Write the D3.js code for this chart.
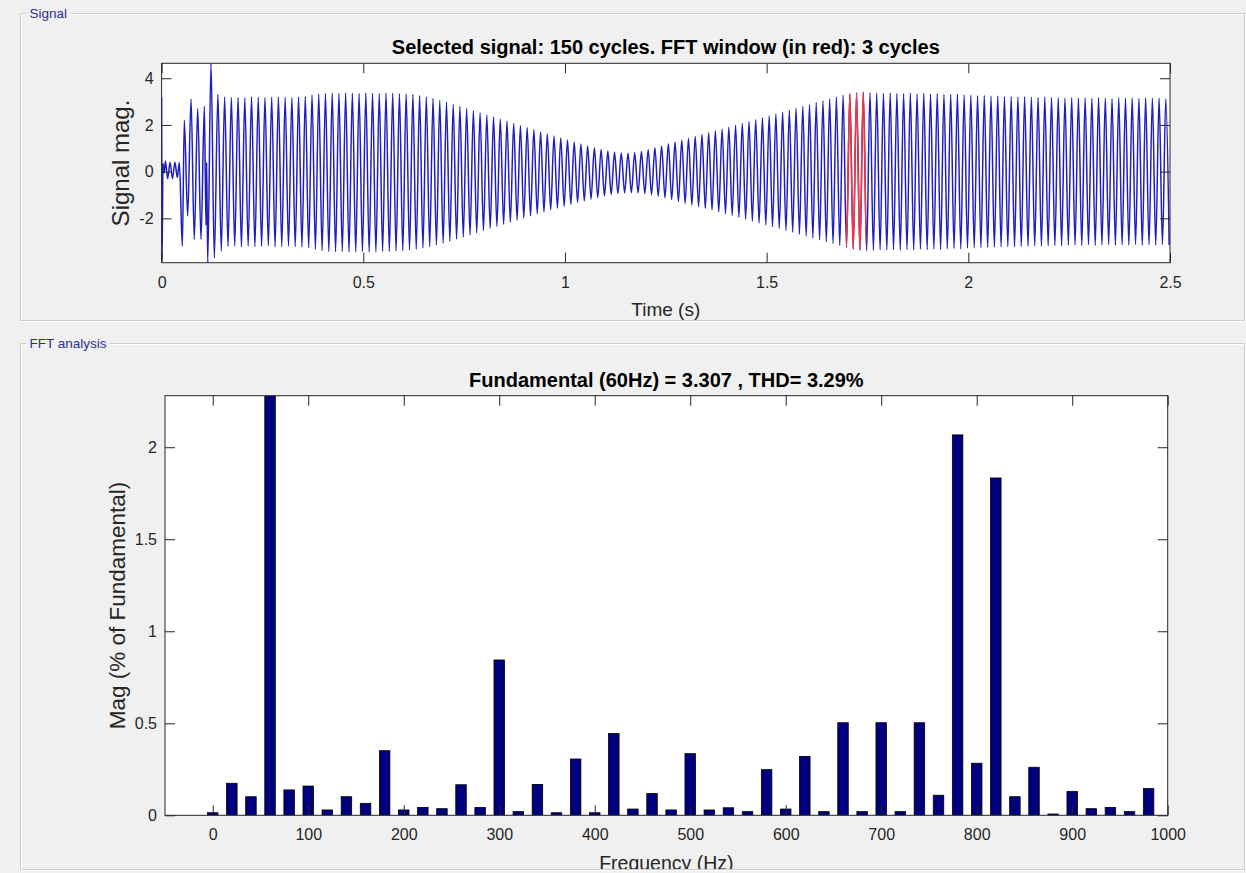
<!DOCTYPE html>
<html><head><meta charset="utf-8">
<script src="https://cdn.jsdelivr.net/npm/d3@7"></script>
<style>
html,body{margin:0;padding:0;background:#f0f0f0;}
svg{display:block;font-family:"Liberation Sans",Arial,Helvetica,sans-serif;}
</style></head><body>
<svg id="chart" width="1246" height="873"></svg>
<script>
// ---------------- DATA ----------------
const fundamentalHz = 60;
const signalTitle = "Selected signal: 150 cycles. FFT window (in red): 3 cycles";
const fftTitle = "Fundamental (60Hz) = 3.307 , THD= 3.29%";
// irregular start of the signal: [time (s), value]
const signalTransient = [
  [0, 3.2], [0.0012, -3.75], [0.0035, 0.35], [0.0065, -0.05], [0.0095, 0.45],
  [0.015, -0.3], [0.021, 0.4], [0.027, -0.3], [0.033, 0.4], [0.039, -0.25],
  [0.044, 0.4], [0.0514, -3.2], [0.0563, 2.2], [0.0646, -1.9], [0.073, 3.1],
  [0.081, -2.9], [0.0895, 2.7], [0.0977, -2.9], [0.106, 2.8], [0.110, -2.3],
  [0.1118, 0.4], [0.1143, -3.9], [0.1225, 4.64], [0.1307, -3.7]
];
const steadyStart = 0.1396; // time of the first steady positive peak
// positive peak of each following cycle
const signalPeaks = [
  3.30, 3.20, 3.17, 3.18, 3.16, 3.20, 3.18, 3.17, 3.19, 3.20, 3.18, 3.16, 3.20,
  3.22, 3.28, 3.32, 3.35,
  3.36, 3.35, 3.37, 3.36, 3.35, 3.37, 3.36, 3.35, 3.37, 3.36, 3.34,
  3.33, 3.30, 3.26, 3.20, 3.13, 3.05, 2.97, 2.88, 2.79, 2.70, 2.61, 2.52, 2.43, 2.34, 2.25, 2.16, 2.07, 1.98,
  1.89, 1.80, 1.71, 1.62, 1.53, 1.44, 1.35, 1.27, 1.18, 1.10, 1.02, 0.95, 0.88, 0.83, 0.80, 0.79, 0.81, 0.86,
  0.94, 1.02, 1.10, 1.19, 1.27, 1.35, 1.43, 1.51, 1.59, 1.67, 1.75, 1.83, 1.91, 1.99, 2.07, 2.15, 2.23,
  2.31, 2.39, 2.47, 2.55, 2.63, 2.71, 2.79, 2.87, 2.95, 3.03, 3.11, 3.19, 3.27, 3.33, 3.37, 3.40, 3.38,
  3.36, 3.35, 3.37, 3.35, 3.34, 3.36, 3.33, 3.35, 3.32, 3.34, 3.31, 3.30, 3.32,
  3.28, 3.27, 3.25, 3.26, 3.23, 3.24, 3.21, 3.22, 3.20, 3.21, 3.19, 3.18, 3.20, 3.17, 3.16,
  3.15, 3.17, 3.14, 3.16, 3.13, 3.17, 3.15, 3.12, 3.16, 3.14, 3.15, 3.13, 3.16, 3.14, 3.15, 3.12
];
// negative peak of each following cycle (half a cycle after the positive one)
const signalTroughs = [
  -3.40, -3.20, -3.18, -3.22, -3.19, -3.21, -3.20, -3.18, -3.22, -3.20, -3.19, -3.21, -3.22,
  -3.26, -3.32, -3.38, -3.42,
  -3.43, -3.42, -3.44, -3.43, -3.42, -3.44, -3.43, -3.41, -3.42, -3.40, -3.38,
  -3.36, -3.32, -3.27, -3.21, -3.14, -3.06, -2.98, -2.89, -2.80, -2.71, -2.62, -2.53, -2.44, -2.35, -2.26, -2.17, -2.08, -1.99,
  -1.90, -1.81, -1.73, -1.64, -1.56, -1.48, -1.40, -1.32, -1.25, -1.18, -1.11, -1.04, -0.98, -0.94, -0.91, -0.90, -0.91, -0.94,
  -0.99, -1.05, -1.12, -1.20, -1.28, -1.36, -1.43, -1.50, -1.57, -1.64, -1.72, -1.80, -1.88, -1.96, -2.04, -2.12, -2.20,
  -2.28, -2.36, -2.44, -2.52, -2.60, -2.68, -2.76, -2.84, -2.92, -3.00, -3.08, -3.16, -3.24, -3.31, -3.36, -3.38, -3.37,
  -3.35, -3.36, -3.34, -3.36, -3.33, -3.35, -3.32, -3.34, -3.31, -3.33, -3.30, -3.29, -3.31,
  -3.27, -3.26, -3.25, -3.24, -3.23, -3.22, -3.21, -3.22, -3.20, -3.19, -3.18, -3.19, -3.17, -3.16, -3.17,
  -3.15, -3.14, -3.16, -3.13, -3.15, -3.14, -3.12, -3.15, -3.13, -3.14, -3.12, -3.15, -3.13, -3.14, -3.12, -3.14
];
const fftWindow = [1.697, 1.747]; // seconds, drawn in red

const fftFreqs = [0, 20, 40, 60, 80, 100, 120, 140, 160, 180,
  200, 220, 240, 260, 280, 300, 320, 340, 360, 380,
  400, 420, 440, 460, 480, 500, 520, 540, 560, 580,
  600, 620, 640, 660, 680, 700, 720, 740, 760, 780,
  800, 820, 840, 860, 880, 900, 920, 940, 960, 980];
const fftMags = [0.014, 0.174, 0.101, 100, 0.138, 0.159, 0.029, 0.101, 0.065, 0.351,
  0.029, 0.043, 0.036, 0.166, 0.043, 0.844, 0.020, 0.168, 0.014, 0.306,
  0.014, 0.444, 0.034, 0.118, 0.029, 0.335, 0.029, 0.041, 0.020, 0.248,
  0.034, 0.320, 0.020, 0.503, 0.020, 0.503, 0.020, 0.503, 0.109, 2.067,
  0.283, 1.833, 0.101, 0.261, 0.007, 0.130, 0.036, 0.043, 0.020, 0.145];

const timeTicks = [0, 0.5, 1, 1.5, 2, 2.5];
const signalTicks = [-2, 0, 2, 4];
const freqTicks = [0, 100, 200, 300, 400, 500, 600, 700, 800, 900, 1000];
const magTicks = [0, 0.5, 1, 1.5, 2];

// ---------------- LAYOUT ----------------
const svg = d3.select("#chart");
const ink = "#262626";
const defs = svg.append("defs");

function panel(x0, y0, x1, y1, label) {
  const g = svg.append("g");
  g.append("rect").attr("x", x0 + 1).attr("y", y0 + 1).attr("width", x1 - x0).attr("height", y1 - y0)
    .attr("fill", "none").attr("stroke", "#ffffff").attr("stroke-width", 1);
  g.append("rect").attr("x", x0).attr("y", y0).attr("width", x1 - x0).attr("height", y1 - y0)
    .attr("fill", "none").attr("stroke", "#cdcdcd").attr("stroke-width", 1);
  const t = g.append("text").attr("x", x0 + 9).attr("y", y0 + 4.5)
    .attr("font-size", 13.5).attr("fill", "#2e2e90").text(label);
  const bb = t.node().getBBox();
  g.insert("rect", "text").attr("x", bb.x - 3).attr("y", y0 - 3).attr("width", bb.width + 6).attr("height", 7)
    .attr("fill", "#f0f0f0");
}
panel(20.5, 13.5, 1244.5, 320.5, "Signal");
panel(20.5, 343.5, 1244.5, 869.5, "FFT analysis");

// ---------------- SIGNAL PLOT ----------------
const tX = d3.scaleLinear().domain([0, 2.5]).range([161.6, 1170]);
const sY = d3.scaleLinear().domain([-3.9, 4.64]).range([262.7, 63.3]);

const gS = svg.append("g");
gS.append("rect").attr("x", tX(0)).attr("y", sY(4.64)).attr("width", tX(2.5) - tX(0))
  .attr("height", sY(-3.9) - sY(4.64)).attr("fill", "#ffffff");

defs.append("clipPath").attr("id", "clipS").append("rect")
  .attr("x", tX(0)).attr("y", sY(4.64)).attr("width", tX(2.5) - tX(0)).attr("height", sY(-3.9) - sY(4.64));
defs.append("clipPath").attr("id", "clipRed").append("rect")
  .attr("x", tX(fftWindow[0])).attr("y", sY(4.64)).attr("width", tX(fftWindow[1]) - tX(fftWindow[0]))
  .attr("height", sY(-3.9) - sY(4.64));

const period = 1 / fundamentalHz;
const pts = signalTransient.map(d => ({t: d[0], v: d[1]}));
signalPeaks.forEach((p, i) => {
  const t = steadyStart + i * period;
  pts.push({t: t, v: p});
  pts.push({t: t + period / 2, v: signalTroughs[i]});
});
const line = d3.line().x(d => tX(d.t)).y(d => sY(d.v)).curve(d3.curveMonotoneX);

gS.append("path").datum(pts).attr("d", line).attr("fill", "none")
  .attr("stroke", "#1f1fbf").attr("stroke-width", 1.5).attr("clip-path", "url(#clipS)");
gS.append("path").datum(pts).attr("d", line).attr("fill", "none")
  .attr("stroke", "#ff3434").attr("stroke-width", 1.5).attr("clip-path", "url(#clipRed)");

function styleAxis(g) {
  g.select(".domain").remove();
  g.selectAll(".tick line").attr("stroke", ink);
  g.selectAll(".tick text").attr("fill", ink).attr("font-size", 16)
    .attr("font-family", "'Liberation Sans', Arial, sans-serif");
}
gS.append("g").attr("transform", `translate(0,${sY(-3.9)})`)
  .call(d3.axisBottom(tX).tickValues(timeTicks).tickSize(-10).tickPadding(14).tickFormat(d => String(d)))
  .call(styleAxis);
gS.append("g").attr("transform", `translate(0,${sY(4.64)})`)
  .call(d3.axisBottom(tX).tickValues(timeTicks).tickSize(10).tickFormat(""))
  .call(styleAxis);
gS.append("g").attr("transform", `translate(${tX(0)},0)`)
  .call(d3.axisLeft(sY).tickValues(signalTicks).tickSize(-10).tickPadding(8).tickFormat(d => String(d)))
  .call(styleAxis);
gS.append("g").attr("transform", `translate(${tX(2.5)},0)`)
  .call(d3.axisLeft(sY).tickValues(signalTicks).tickSize(10).tickFormat(""))
  .call(styleAxis);
gS.append("rect").attr("x", tX(0)).attr("y", sY(4.64)).attr("width", tX(2.5) - tX(0))
  .attr("height", sY(-3.9) - sY(4.64)).attr("fill", "none").attr("stroke", ink).attr("stroke-width", 1);

gS.append("text").attr("x", (tX(0) + tX(2.5)) / 2).attr("y", 53.5).attr("text-anchor", "middle")
  .attr("font-size", 20).attr("font-weight", "bold").attr("fill", "#000").text(signalTitle);
gS.append("text").attr("x", (tX(0) + tX(2.5)) / 2).attr("y", 315.5).attr("text-anchor", "middle")
  .attr("font-size", 19).attr("fill", ink).text("Time (s)");
gS.append("text").attr("transform", `translate(129,${(sY(4.64) + sY(-3.9)) / 2}) rotate(-90)`)
  .attr("text-anchor", "middle").attr("font-size", 24).attr("fill", ink).text("Signal mag.");

// ---------------- FFT PLOT ----------------
const fX = d3.scaleLinear().domain([-50, 1000]).range([165, 1167.7]);
const mY = d3.scaleLinear().domain([0, 2.28]).range([815.3, 395.7]);
const barHalf = 5.5; // Hz

defs.append("clipPath").attr("id", "clipPanel").append("rect")
  .attr("x", 21).attr("y", 344).attr("width", 1223).attr("height", 525);
defs.append("clipPath").attr("id", "clipF").append("rect")
  .attr("x", fX(-50)).attr("y", mY(2.28)).attr("width", fX(1000) - fX(-50)).attr("height", mY(0) - mY(2.28));

const gF = svg.append("g").attr("clip-path", "url(#clipPanel)");
gF.append("rect").attr("x", fX(-50)).attr("y", mY(2.28)).attr("width", fX(1000) - fX(-50))
  .attr("height", mY(0) - mY(2.28)).attr("fill", "#ffffff");

const bars = fftFreqs.map((f, i) => ({f: f, m: fftMags[i]}));
gF.append("g").attr("clip-path", "url(#clipF)").selectAll("rect").data(bars).join("rect")
  .attr("x", d => fX(d.f - barHalf)).attr("width", d => fX(d.f + barHalf) - fX(d.f - barHalf))
  .attr("y", d => mY(d.m)).attr("height", d => mY(0) - mY(d.m))
  .attr("fill", "#00007f").attr("stroke", "#000000").attr("stroke-width", 0.8);

gF.append("g").attr("transform", `translate(0,${mY(0)})`)
  .call(d3.axisBottom(fX).tickValues(freqTicks).tickSize(-10).tickPadding(13.5).tickFormat(d => String(d)))
  .call(styleAxis);
gF.append("g").attr("transform", `translate(0,${mY(2.28)})`)
  .call(d3.axisBottom(fX).tickValues(freqTicks).tickSize(10).tickFormat(""))
  .call(styleAxis);
gF.append("g").attr("transform", `translate(${fX(-50)},0)`)
  .call(d3.axisLeft(mY).tickValues(magTicks).tickSize(-10).tickPadding(8).tickFormat(d => String(d)))
  .call(styleAxis);
gF.append("g").attr("transform", `translate(${fX(1000)},0)`)
  .call(d3.axisLeft(mY).tickValues(magTicks).tickSize(10).tickFormat(""))
  .call(styleAxis);
gF.append("rect").attr("x", fX(-50)).attr("y", mY(2.28)).attr("width", fX(1000) - fX(-50))
  .attr("height", mY(0) - mY(2.28)).attr("fill", "none").attr("stroke", ink).attr("stroke-width", 1);

gF.append("text").attr("x", (fX(-50) + fX(1000)) / 2).attr("y", 387).attr("text-anchor", "middle")
  .attr("font-size", 20).attr("font-weight", "bold").attr("fill", "#000").text(fftTitle);
gF.append("text").attr("x", (fX(-50) + fX(1000)) / 2).attr("y", 869.5).attr("text-anchor", "middle")
  .attr("font-size", 19.5).attr("fill", ink).text("Frequency (Hz)");
gF.append("text").attr("transform", `translate(125,${(mY(0) + mY(2.28)) / 2}) rotate(-90)`)
  .attr("text-anchor", "middle").attr("font-size", 22.5).attr("fill", ink).text("Mag (% of Fundamental)");
// redraw panel bottom border over the clipped label
svg.append("line").attr("x1", 20.5).attr("x2", 1244.5).attr("y1", 869.5).attr("y2", 869.5)
  .attr("stroke", "#cdcdcd");
</script>
</body></html>
